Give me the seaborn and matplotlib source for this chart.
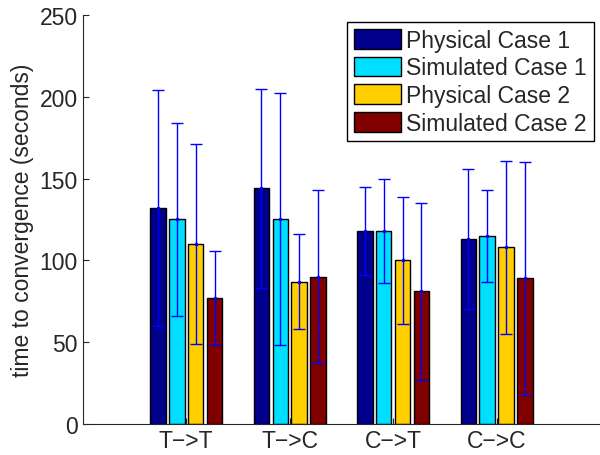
import numpy as np
import pandas as pd

import matplotlib
matplotlib.use('Agg')
import matplotlib.pyplot as plt
import seaborn as sns

sns.set_style('ticks')
plt.rcParams['font.family'] = ['Liberation Sans', 'DejaVu Sans']
plt.rcParams.update(
    {
        'xtick.direction': 'in',
        'ytick.direction': 'in',
        'xtick.major.size': 4,
        'ytick.major.size': 4,
    }
)

FS = 16.5

transitions = ['T\u2212>T', 'T\u2212>C', 'C\u2212>T', 'C\u2212>C']
series = ['Physical Case 1', 'Simulated Case 1', 'Physical Case 2', 'Simulated Case 2']
colors = ['#00008C', '#00DFFF', '#FFCF00', '#800000']

# mean time to convergence per transition
physical_1 = [132, 144, 118, 113]
simulated_1 = [125, 125, 118, 115]
physical_2 = [110, 87, 100, 108]
simulated_2 = [77, 90, 81, 89]

# std of each mean
physical_1_err = [72, 61, 27, 43]
simulated_1_err = [59, 77, 32, 28]
physical_2_err = [61, 29, 39, 53]
simulated_2_err = [29, 53, 54, 71]

means = [physical_1, simulated_1, physical_2, simulated_2]
errs = [physical_1_err, simulated_1_err, physical_2_err, simulated_2_err]

df = pd.DataFrame(
    {
        'transition': np.tile(transitions, len(series)),
        'case': np.repeat(series, len(transitions)),
        'time': np.concatenate(means),
    }
)

fig = plt.figure(figsize=(6, 4.56), dpi=100)
ax = fig.add_axes([0.138, 0.068, 0.862, 0.897])

sns.barplot(
    data=df,
    x='transition',
    y='time',
    hue='case',
    hue_order=series,
    palette=colors,
    width=0.73,
    gap=0.18,
    edgecolor='black',
    linewidth=1,
    saturation=1,
    errorbar=None,
    ax=ax,
)

# error bars on top of each bar
for container, err in zip(ax.containers, errs):
    xs = [p.get_x() + p.get_width() / 2 for p in container.patches]
    ys = [p.get_height() for p in container.patches]
    ax.errorbar(xs, ys, yerr=err, fmt='o', ms=1.5, color='#0000FF',
                ecolor='#0000FF', elinewidth=1, capsize=4.5, capthick=1)

ax.set_xlim(-1, 4)
ax.set_ylim(0, 250)
ax.set_yticks([0, 50, 100, 150, 200, 250])
ax.set_xlabel('')
ax.set_ylabel('time to convergence (seconds)', fontsize=FS)
ax.tick_params(axis='both', labelsize=FS, width=0.8)
sns.despine(ax=ax)

leg = ax.legend(
    loc='upper right',
    bbox_to_anchor=(0.988, 0.983),
    borderaxespad=0,
    fontsize=FS,
    handlelength=2.05,
    handleheight=0.95,
    handletextpad=0.25,
    labelspacing=0.2,
    borderpad=0.3,
    fancybox=False,
    framealpha=1,
    edgecolor='black',
)
leg.get_frame().set_linewidth(1)

fig.savefig('out.png', dpi=100)
